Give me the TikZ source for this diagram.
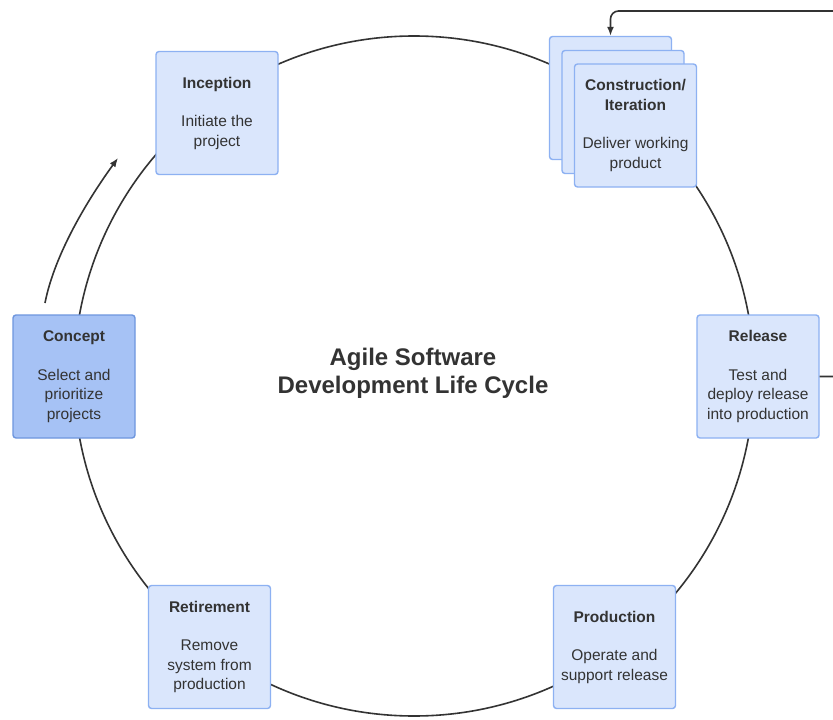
\documentclass[tikz,border=0pt]{standalone}
\usepackage{fontspec}
\setmainfont{Liberation Sans}
\usetikzlibrary{arrows.meta}
\definecolor{boxfill}{HTML}{DAE6FC}
\definecolor{boxline}{HTML}{8DB1F2}
\definecolor{conceptfill}{HTML}{A6C2F5}
\definecolor{conceptline}{HTML}{6E96DE}
\definecolor{ink}{HTML}{333333}
\begin{document}
\begin{tikzpicture}[x=1pt,y=-1pt,
  phase/.style={draw=boxline, fill=boxfill, line width=1.4pt, rounded corners=3pt,
    minimum width=122pt, minimum height=123pt, inner sep=0pt, align=center,
    text=ink, font=\fontsize{15.5}{19.5}\selectfont},
  conceptbox/.style={phase, fill=conceptfill, draw=conceptline},
  conn/.style={draw=ink, line width=1.6pt},
  tip/.style={-{Latex[length=9pt,width=7pt]}}]
\useasboundingbox (0,0) rectangle (833,720);
\clip (0,0) rectangle (833,720);
\fill[white] (0,0) rectangle (833,720);
% cycle
\draw[conn] (414,376) circle[radius=340pt];
% phases
\node[phase] (inc) at (217,113) {\textbf{Inception}\\[19pt]Initiate the\\project};
\node[phase] (cb) at (610.5,98) {};
\node[phase] (cm) at (623,112) {};
\node[phase] (cf) at (635.5,125.5) {\textbf{Construction/}\\\textbf{Iteration}\\[19pt]Deliver working\\product};
\node[phase] (rel) at (758,376.5) {\textbf{Release}\\[19pt]Test and\\deploy release\\into production};
\node[phase] (prod) at (614.5,647) {\textbf{Production}\\[19pt]Operate and\\support release};
\node[phase] (ret) at (209.5,647) {\textbf{Retirement}\\[19pt]Remove\\system from\\production};
\node[conceptbox] (con) at (74,376.5) {\textbf{Concept}\\[19pt]Select and\\prioritize\\projects};
% title
\node[font=\bfseries\fontsize{24}{28}\selectfont, text=ink, align=center] (title) at (413,373) {Agile Software\\Development Life Cycle};
% loop back arrow
\coordinate (loopA) at (860,376.5);
\coordinate (loopB) at (860,11);
\draw[conn, tip, rounded corners=8pt] (rel.east) -- (loopA) -- (loopB) -- (cb.north |- loopB) -- (cb.north);
% curved arrow
\coordinate (cstart) at (45,303);
\coordinate (cend) at (118,158);
\draw[conn, tip] (cstart) .. controls (54.5,254) and (88.5,198.5) .. (cend);
\end{tikzpicture}
\end{document}
